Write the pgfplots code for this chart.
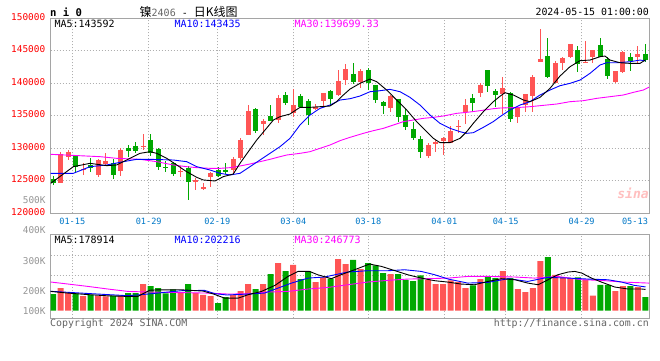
\documentclass[border=0pt]{standalone}
\usepackage{fontspec}
\setmainfont{DejaVu Sans Mono}
\newfontfamily\cjk{Noto Sans CJK SC}
\usepackage{pgfplots}
\usepackage{pgfplotstable}
\pgfplotsset{compat=1.18}
\definecolor{cred}{RGB}{255,85,85}
\definecolor{cgreen}{RGB}{0,168,0}
\definecolor{framegray}{RGB}{165,165,165}
\definecolor{gridgray}{RGB}{175,175,175}
\definecolor{labgray}{RGB}{150,150,150}
\definecolor{txtgray}{RGB}{100,100,100}
\definecolor{datecol}{RGB}{0,120,200}
\definecolor{maviolet}{RGB}{255,0,255}
\definecolor{mablue}{RGB}{0,0,255}

\pgfplotstableread{
i o h l c v
1 124700 129400 124700 129090 190
2 128640 129750 128230 129400 148
4 126620 127730 125960 126870 123
6 125960 128330 125600 128230 123
7 127630 129240 127220 127980 120
9 126460 130000 125700 129750 126
12 130200 132170 129750 130350 224
17 126310 127220 125550 126560 154
19 124850 125450 123640 125050 148
20 123740 124610 123590 124100 132
21 125635 126400 124000 126250 123
24 126660 128710 126045 128300 134
25 128450 131530 128200 131270 165
26 132040 136650 132040 135730 224
28 133780 134500 132040 134190 224
30 134340 138140 133830 137730 400
32 135470 139110 134860 136650 384
35 135980 136750 135880 136290 241
36 137320 138550 136500 138550 280
38 138190 142030 138030 140340 434
39 140490 142950 139720 142180 392
41 140235 142131 139313 141875 350
45 136240 138186 135625 138033 308
50 128862 130758 128555 130501 260
51 130758 131270 129477 130912 224
52 131168 131782 128965 131629 224
53 130758 133422 130758 132653 255
54 133320 134344 132295 133422 241
55 135625 137572 133730 136649 190
57 138442 140082 137930 139723 266
60 138340 140901 135266 139211 333
62 134856 136291 133832 136137 182
63 136649 138340 135625 138340 157
64 138033 141260 135625 140901 190
65 143309 148330 143309 143668 417
67 139979 143463 139979 143155 300
68 143053 144078 142029 143924 280
69 143975 146024 143821 146024 274
71 143155 146486 143053 143309 260
72 144078 145102 143155 145102 126
75 140235 141875 140082 141875 165
76 141772 145000 141619 144846 207
78 143975 145717 143053 144488 199
}\redtab

\pgfplotstableread{
i o h l c v
0 125200 125700 124350 124700 140
3 128740 128840 126310 127120 143
5 127370 128480 126410 126920 134
8 127730 128330 125300 125860 126
10 130050 130500 128640 129650 148
11 130400 131000 129240 129600 148
13 131260 132270 128740 129240 207
14 129900 130000 126720 127070 190
15 127070 127980 126310 127020 146
16 127730 127880 125700 126110 179
18 126920 127220 122070 124800 224
22 126660 127170 125635 125790 64
23 126660 127790 126045 126300 115
27 136090 136240 132300 132650 182
29 134960 136650 134240 134240 308
31 138140 138700 136650 137010 333
33 138030 138340 136140 136290 266
34 137320 137570 133580 135110 330
37 138850 138960 136500 137570 269
40 141414 143156 139877 140235 426
42 142029 142285 138955 139979 400
43 139723 139800 137008 137418 381
44 137162 137200 135266 136547 316
46 137572 137600 134088 134754 308
47 135112 135983 132807 133320 260
48 132961 134088 131270 131629 249
49 131424 131885 128555 129375 297
56 137674 138340 135779 137008 213
58 142029 142100 138699 139621 286
59 138852 139108 136291 138186 274
61 138442 138699 134088 134446 274
66 144180 146895 140748 140901 451
70 145102 145717 141772 142900 280
73 145870 146895 143975 144078 216
74 143719 143975 140594 141158 216
77 143975 144590 141926 143463 207
79 144488 146024 143309 143565 115
}\greentab

\begin{document}
\begin{tikzpicture}
\useasboundingbox (0pt,0pt) rectangle (660pt,360pt);
\fill[white] (0pt,0pt) rectangle (660pt,360pt);

% ---------------- price panel ----------------
\begin{axis}[
  at={(50.7pt,146.7pt)}, anchor=south west,
  scale only axis, width=598.3pt, height=195.1pt,
  xmin=-0.31, xmax=79.47, ymin=120000, ymax=150000,
  scaled y ticks=false, scaled x ticks=false,
  axis line style={framegray, line width=0.9pt},
  major tick length=0pt,
  xtick={2.57,12.76,21.91,32.04,42.04,52.17,60.36,70.49},
  xticklabels={01-15,01-29,02-19,03-04,03-18,04-01,04-15,04-29},
  extra x ticks={77.6}, extra x tick labels={05-13},
  extra x tick style={grid=none},
  xticklabel style={font=\fontsize{8.6}{10}\selectfont, text=datecol, anchor=center, yshift=-8pt},
  ytick={120000,125000,130000,135000,140000,145000,150000},
  yticklabels={120000,125000,130000,135000,140000,145000,150000},
  yticklabel style={font=\fontsize{9.4}{11}\selectfont, text=red, anchor=east, xshift=-2pt, yshift=1.5pt},
  grid=major, major grid style={gridgray, dash pattern=on 1pt off 2pt, line width=0.8pt},
  clip=true,
]
% wicks
\addplot [draw=none, mark=none, forget plot, error bars/.cd, y dir=both, y explicit, error mark=none,
  error bar style={draw=cred, line width=1pt}]
  table [x=i, y expr={(\thisrow{h}+\thisrow{l})/2}, y error expr={(\thisrow{h}-\thisrow{l})/2}] {\redtab};
\addplot [draw=none, mark=none, forget plot, error bars/.cd, y dir=both, y explicit, error mark=none,
  error bar style={draw=cgreen, line width=1pt}]
  table [x=i, y expr={(\thisrow{h}+\thisrow{l})/2}, y error expr={(\thisrow{h}-\thisrow{l})/2}] {\greentab};
% bodies
\addplot [draw=none, mark=none, forget plot, error bars/.cd, y dir=both, y explicit, error mark=none,
  error bar style={draw=cred, line width=5pt}]
  table [x=i, y expr={(\thisrow{o}+\thisrow{c})/2}, y error expr={max(abs(\thisrow{c}-\thisrow{o})/2,80)}] {\redtab};
\addplot [draw=none, mark=none, forget plot, error bars/.cd, y dir=both, y explicit, error mark=none,
  error bar style={draw=cgreen, line width=5pt}]
  table [x=i, y expr={(\thisrow{o}+\thisrow{c})/2}, y error expr={max(abs(\thisrow{c}-\thisrow{o})/2,80)}] {\greentab};
% MA30
\addplot [maviolet, line width=0.9pt, mark=none] coordinates {
(-0.31,129067) (6.27,128709) (8.49,128453) (11.6,128299) (13.82,127940) (16.04,127428) (17.82,127170) (19.16,127018) (20.93,126915) (22.27,126915) (23.6,127018) (24.93,127274) (26.27,127581) (27.6,127940) (28.93,128299) (30.27,128709) (31.16,128965) (32.93,129221) (34.27,129477) (35.6,129990) (36.93,130502) (38.27,131167) (39.6,131680) (41.38,132295) (42.71,132705) (44.04,133063) (45.38,133576) (46.71,134088) (48.04,134344) (49.38,134600) (50.71,134754) (52.04,134959) (53.82,135369) (55.16,135522) (56.93,135779) (58.71,136086) (59.6,136188) (62.27,136291) (63.6,136393) (64.93,136547) (67.16,136803) (68.93,137162) (70.71,137316) (72.49,137674) (74.27,137930) (76.04,138188) (77.38,138596) (78.71,138955) (79.47,139400)};
% MA10
\addplot [mablue, line width=0.9pt, mark=none] coordinates {
(-0.31,126148) (2.71,126148) (4.93,127170) (7.16,127428) (9.38,127940) (11.16,128299) (12.93,128299) (16.04,128197) (17.82,127940) (19.16,127170) (20.93,126658) (22.27,126148) (23.6,125891) (24.93,126148) (26.27,127170) (27.6,128197) (28.93,129221) (30.27,130247) (31.6,131526) (32.93,133576) (34.27,135112) (35.6,136137) (36.93,136649) (38.27,137418) (39.6,137620) (40.93,138033) (42.27,138698) (43.6,138852) (44.93,139057) (46.27,138698) (47.6,137828) (48.93,136649) (50.27,135112) (51.6,133832) (52.93,133063) (54.27,132551) (55.16,132295) (56.04,132397) (57.38,133217) (58.71,134100) (59.6,134857) (60.93,135881) (62.27,136649) (63.6,137162) (64.93,138188) (66.27,138955) (67.6,139621) (68.93,139980) (70.27,140491) (71.6,141516) (72.93,142797) (73.82,143155) (75.16,143155) (76.93,143309) (78.27,143565) (79,143435)};
% MA5
\addplot [black, line width=0.9pt, mark=none] coordinates {
(-0.31,124610) (2.71,127170) (4.93,127684) (7.16,127325) (8.49,127428) (9.38,127940) (10.71,128709) (11.6,129221) (12.93,129477) (13.82,129221) (15.16,128453) (16.49,127428) (17.82,126403) (19.16,125532) (20.04,125123) (21.6,124970) (22.71,125635) (24.04,126045) (24.93,127684) (26.04,129477) (27.16,131270) (28.27,132807) (29.38,134344) (30.27,134857) (31.6,135266) (32.93,136291) (34.27,136291) (35.6,136393) (36.93,136496) (37.82,137162) (38.71,138188) (39.6,139100) (40.93,139980) (42.27,140646) (43.16,140236) (44.49,138955) (45.82,137418) (47.16,135881) (48.49,134088) (49.82,132551) (50.71,131526) (51.6,130861) (52.93,130861) (54.27,131526) (55.16,132551) (56.04,133832) (57.38,135620) (58.71,137162) (59.6,138000) (60.27,138545) (61.38,138188) (62.71,137418) (63.6,137162) (64.93,137828) (66.27,139212) (67.6,141106) (68.93,142541) (70.27,143463) (71.6,143565) (72.93,144078) (73.6,144180) (74.27,143565) (75.6,143155) (76.93,143053) (78.27,143053) (79,143592)};
\end{axis}

% ---------------- volume panel ----------------
\begin{axis}[
  at={(50.7pt,42pt)}, anchor=south west,
  scale only axis, width=598.3pt, height=83.7pt,
  xmin=-0.31, xmax=79.47, ymin=-61.3, ymax=641.8,
  scaled y ticks=false, scaled x ticks=false,
  axis line style={framegray, line width=0.9pt},
  major tick length=0pt,
  xtick={2.57,12.76,21.91,32.04,42.04,52.17,60.36,70.49},
  xticklabels={},
  ytick={294,462}, yticklabels={},
  grid=major, major grid style={gridgray, dash pattern=on 1pt off 2pt, line width=0.8pt},
  clip=true,
]
\addplot [ybar, bar width=6pt, bar shift=0pt, fill=cred, draw=none] table [x=i, y=v] {\redtab};
\addplot [ybar, bar width=6pt, bar shift=0pt, fill=cgreen, draw=none] table [x=i, y=v] {\greentab};
\addplot [maviolet, line width=0.9pt, mark=none] coordinates {
(-0.31,241) (2,224) (4.67,204) (7.33,182) (10,162) (12.67,157) (15.33,154) (18,151) (20.67,148) (23.33,140) (26,142) (28.7,157) (31.3,162) (34,182) (36.7,196) (39.3,218) (42,241) (44.7,255) (47.3,266) (50,269) (52.7,274) (55.3,288) (58,288) (61.6,283) (64.2,274) (67.3,288) (70.5,260) (73.1,255) (75.8,241) (79.47,232)};
\addplot [mablue, line width=0.9pt, mark=none] coordinates {
(-0.31,163) (5.1,143) (10,126) (12.67,140) (17.1,168) (20.2,171) (21.6,143) (23.2,132) (26,140) (28.2,148) (30,190) (31.8,232) (34,274) (36.2,283) (37.6,302) (39.3,325) (42,336) (44.7,336) (46.9,344) (49.1,330) (50.9,302) (52.7,266) (55.3,232) (58,238) (60.7,269) (63.3,246) (66,280) (68.7,274) (71.3,266) (74,260) (75.8,241) (77.5,213) (79,200)};
\addplot [black, line width=0.9pt, mark=none] coordinates {
(-0.31,162) (2,148) (4.7,135) (7.3,125) (10,120) (11.3,120) (12.9,172) (14,175) (17,176) (20,165) (21.5,138) (22.9,105) (24.7,106) (26,134) (27.8,162) (29.6,213) (31.33,288) (32.67,330) (34.2,330) (35.3,302) (37.1,269) (38.4,302) (40.2,344) (42.2,392) (43.8,372) (45.6,336) (47.3,302) (49.1,274) (50.9,252) (52.7,240) (54.4,224) (56.2,218) (58,246) (59.8,269) (61.6,260) (63.3,232) (64.7,218) (66,260) (67.3,302) (68.7,325) (69.6,330) (70.5,316) (71.8,274) (73.1,241) (74.9,199) (76.7,182) (78.5,182) (79,179)};
\end{axis}

% ---------------- texts ----------------
\node[anchor=west, inner sep=0pt, font=\bfseries\fontsize{10.6}{12}\selectfont] at (50pt,348pt) {n i 0};
\node[anchor=west, inner sep=0pt] at (139.5pt,348.5pt) {{\cjk\fontsize{12}{14}\selectfont 镍}{\fontsize{10}{12}\selectfont\color{black!60}2406}{\fontsize{10}{12}\selectfont\ -\ }{\cjk\fontsize{12}{14}\selectfont 日K线图}};
\node[anchor=east, inner sep=0pt, font=\fontsize{9.9}{12}\selectfont] at (649pt,348pt) {2024-05-15 01:00:00};

\node[anchor=west, inner sep=0pt, font=\fontsize{10}{12}\selectfont] at (54.3pt,336pt) {MA5:143592};
\node[anchor=west, inner sep=0pt, font=\fontsize{10}{12}\selectfont, text=mablue] at (174.3pt,336pt) {MA10:143435};
\node[anchor=west, inner sep=0pt, font=\fontsize{10}{12}\selectfont, text=maviolet] at (294.3pt,336pt) {MA30:139699.33};

\node[anchor=west, inner sep=0pt, font=\fontsize{10}{12}\selectfont] at (54.3pt,120.5pt) {MA5:178914};
\node[anchor=west, inner sep=0pt, font=\fontsize{10}{12}\selectfont, text=mablue] at (174.3pt,120.5pt) {MA10:202216};
\node[anchor=west, inner sep=0pt, font=\fontsize{10}{12}\selectfont, text=maviolet] at (294.3pt,120.5pt) {MA30:246773};

\node[anchor=east, inner sep=0pt, font=\fontsize{9.4}{11}\selectfont, text=labgray] at (45.7pt,159.5pt) {500K};
\node[anchor=east, inner sep=0pt, font=\fontsize{9.4}{11}\selectfont, text=labgray] at (45.7pt,129.7pt) {400K};
\node[anchor=east, inner sep=0pt, font=\fontsize{9.4}{11}\selectfont, text=labgray] at (45.7pt,99.3pt) {300K};
\node[anchor=east, inner sep=0pt, font=\fontsize{9.4}{11}\selectfont, text=labgray] at (45.7pt,69.3pt) {200K};
\node[anchor=east, inner sep=0pt, font=\fontsize{9.4}{11}\selectfont, text=labgray] at (45.7pt,49pt) {100K};

\node[anchor=west, inner sep=0pt, font=\fontsize{9.9}{12}\selectfont, text=txtgray] at (50pt,36.3pt) {Copyright 2024 SINA.COM};
\node[anchor=east, inner sep=0pt, font=\fontsize{9.9}{12}\selectfont, text=txtgray] at (649pt,36.3pt) {http://finance.sina.com.cn};

\node[inner sep=0pt, font=\bfseries\itshape\fontsize{13}{14}\selectfont, text=red!25] at (633pt,167pt) {sina};
\end{tikzpicture}
\end{document}
